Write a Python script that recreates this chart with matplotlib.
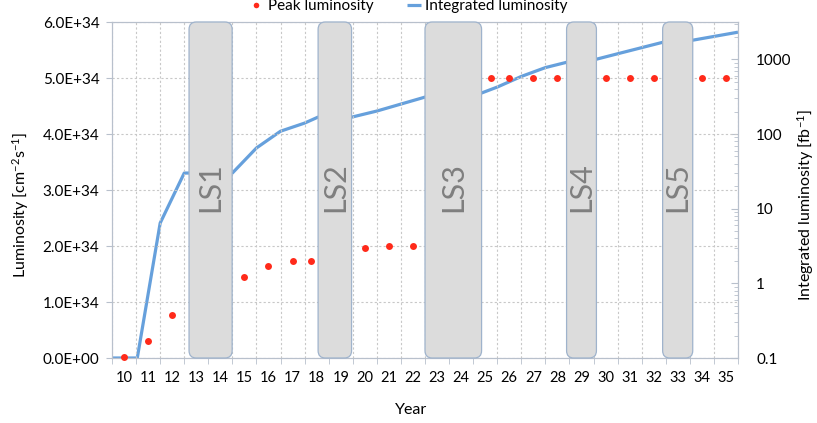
import numpy as np
import matplotlib
matplotlib.use('Agg')
import matplotlib.pyplot as plt
from matplotlib.patches import FancyBboxPatch
from matplotlib.ticker import FixedLocator, NullFormatter

plt.rcParams['font.family'] = ['Lato', 'DejaVu Sans']
plt.rcParams['mathtext.fontset'] = 'custom'
plt.rcParams['mathtext.rm'] = 'Lato'
plt.rcParams['mathtext.it'] = 'Lato'

# peak luminosity per year [cm^-2 s^-1]
peak_years = [10, 11, 12, 15, 16, 17, 17.75, 20, 21, 22, 25.25, 26, 27, 28, 30, 31, 32, 34, 35]
peak_lumi = [0.02e34, 0.3e34, 0.77e34, 1.45e34, 1.65e34, 1.74e34, 1.74e34, 1.96e34, 2.0e34, 2.0e34,
             5e34, 5e34, 5e34, 5e34, 5e34, 5e34, 5e34, 5e34, 5e34]

# integrated luminosity [fb^-1]
int_years = [9.5, 10.55, 11.5, 12.5, 14.5, 15.5, 16.5, 17.5, 18.05, 19.45, 20.5, 22.5,
             24.85, 25.5, 26.5, 27.5, 28.4, 29.6, 30.6, 32.4, 33.6, 35.5]
int_lumi = [0.1, 0.1, 6.4, 30, 30, 65, 109, 140, 168, 168, 203, 312,
            354, 425, 590, 775, 916, 1000, 1210, 1700, 1800, 2310]

# long shutdowns (start, end)
ls_names = ['LS1', 'LS2', 'LS3', 'LS4', 'LS5']
ls_start = [12.7, 18.06, 22.5, 28.38, 32.37]
ls_end = [14.49, 19.45, 24.85, 29.62, 33.62]

years = list(range(10, 36))

fig = plt.figure(figsize=(8.17, 4.23), dpi=100)
ax = fig.add_axes([112/817, 1-358/423, 626/817, 336/423])
ax2 = ax.twinx()

ax.set_zorder(2)
ax.patch.set_visible(False)

spine_col = '#b8c0cc'
grid_col = '#c8c8c8'

ax.set_xlim(9.5, 35.5)
ax.set_ylim(0, 6e34)
ax.set_yticks(np.arange(0, 6.1e34, 1e34))
ax.set_yticklabels([f'{v:.1E}' for v in np.arange(0, 6.1e34, 1e34)])
ax.set_xticks(years)
ax.set_xticklabels([str(y) for y in years])
ax.xaxis.set_minor_locator(FixedLocator(np.arange(9.5, 36, 1)))
ax.tick_params(axis='x', which='major', length=0, pad=9, labelsize=10.5)
ax.tick_params(axis='x', which='minor', length=4, color=spine_col, direction='out')
ax.tick_params(axis='y', length=4, color=spine_col, pad=5, labelsize=11)

ax.grid(axis='y', color=grid_col, linestyle=(0, (2, 2)), linewidth=0.8)
ax.grid(axis='x', which='minor', color=grid_col, linestyle=(0, (2, 2)), linewidth=0.8)
for s in ax.spines.values():
    s.set_color(spine_col)
for s in ax2.spines.values():
    s.set_color(spine_col)

ax2.set_yscale('log')
ax2.set_ylim(0.1, 10**3.5)
ax2.set_yticks([0.1, 1, 10, 100, 1000])
ax2.set_yticklabels(['0.1', '1', '10', '100', '1000'])
ax2.yaxis.set_minor_formatter(NullFormatter())
ax2.tick_params(axis='y', which='major', direction='in', length=5, color=spine_col, pad=13, labelsize=11)
ax2.tick_params(axis='y', which='minor', direction='in', length=3, color=spine_col)

# integrated luminosity line on the log axis
line, = ax2.plot(int_years, int_lumi, color='#66a0dc', linewidth=2.3, zorder=1,
                 solid_capstyle='butt')

# shutdown boxes
for name, x0, x1 in zip(ls_names, ls_start, ls_end):
    box = FancyBboxPatch((x0, 0.0), x1 - x0, 6e34,
                         boxstyle='round,pad=0,rounding_size=0.3',
                         mutation_aspect=6e34 / 26 * 1.9,
                         facecolor='#dcdcdc', edgecolor='#9fb3cc', linewidth=0.9,
                         zorder=3, clip_on=False)
    ax.add_patch(box)
    ax.text((x0 + x1) / 2, 3.05e34, name, rotation=90, ha='center', va='center',
            fontsize=22, color='#7f7f7f', zorder=4)

# peak luminosity dots
pts, = ax.plot(peak_years, peak_lumi, 'o', color='#ff2a1a', markersize=5,
               markeredgewidth=0, zorder=5, clip_on=False)

fig.text(21/817, 1-205/423, 'Luminosity [cm$^{-2}$s$^{-1}$]', rotation=90,
         ha='center', va='center', fontsize=11.5)
fig.text(806/817, 1-205/423, 'Integrated luminosity [fb$^{-1}$]', rotation=90,
         ha='center', va='center', fontsize=11.5)
fig.text(411/817, 1-410/423, 'Year', ha='center', va='center', fontsize=11.5)

pts_h, = ax.plot([], [], 'o', color='#ff2a1a', markersize=4, markeredgewidth=0)
fig.legend([pts_h, line], ['Peak luminosity', 'Integrated luminosity'],
           loc='upper center', bbox_to_anchor=(0.5, 1.035), ncol=2, frameon=False,
           handlelength=0.9, handletextpad=0.3, columnspacing=2.2, fontsize=11)

fig.savefig('out.png', dpi=100)
